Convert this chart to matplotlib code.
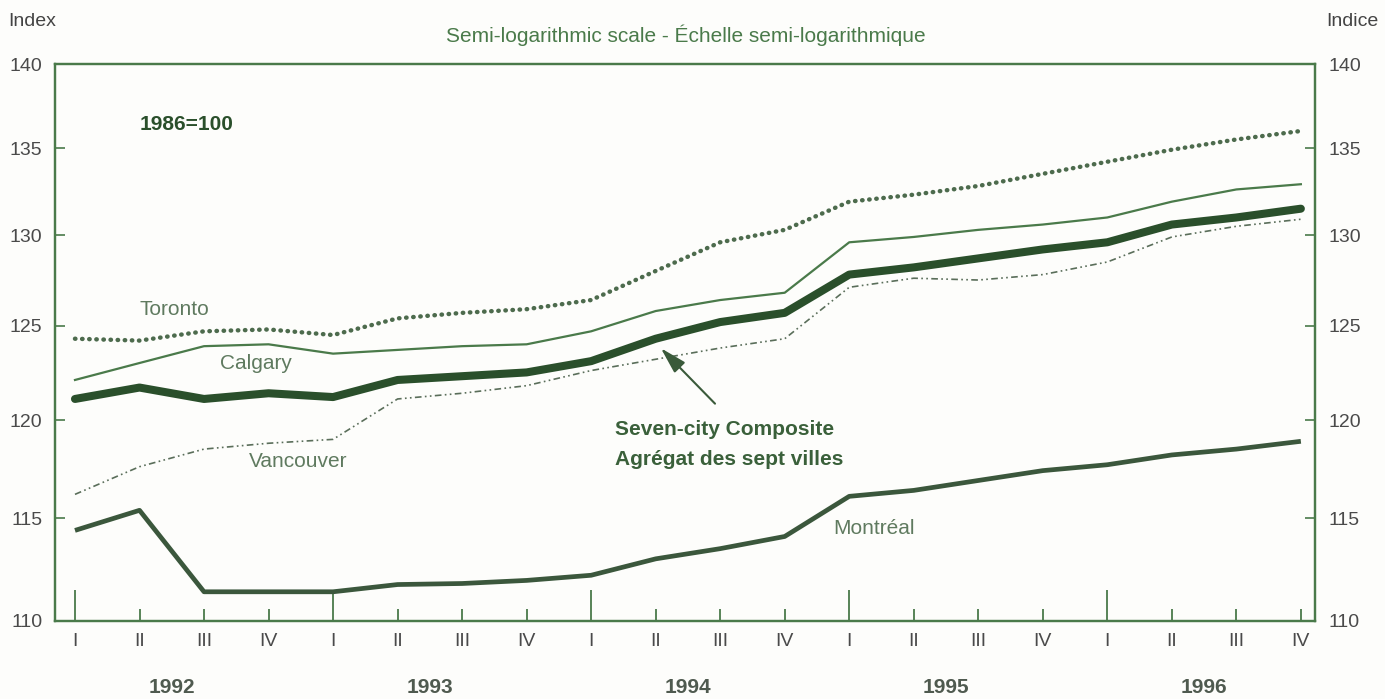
import matplotlib.pyplot as plt
from matplotlib.ticker import FixedLocator, FixedFormatter, NullLocator
from matplotlib.transforms import blended_transform_factory

# quarterly house price index, 1986=100
quarters = ['I', 'II', 'III', 'IV'] * 5
years = ['1992', '1993', '1994', '1995', '1996']

toronto = [124.3, 124.2, 124.7, 124.8, 124.5, 125.4, 125.7, 125.9, 126.4, 128.0,
           129.6, 130.3, 131.9, 132.3, 132.8, 133.5, 134.2, 134.9, 135.5, 136.0]
calgary = [122.1, 123.0, 123.9, 124.0, 123.5, 123.7, 123.9, 124.0, 124.7, 125.8,
           126.4, 126.8, 129.6, 129.9, 130.3, 130.6, 131.0, 131.9, 132.6, 132.9]
composite = [121.1, 121.7, 121.1, 121.4, 121.2, 122.1, 122.3, 122.5, 123.1, 124.3,
             125.2, 125.7, 127.8, 128.2, 128.7, 129.2, 129.6, 130.6, 131.0, 131.5]
vancouver = [116.2, 117.6, 118.5, 118.8, 119.0, 121.1, 121.4, 121.8, 122.6, 123.2,
             123.8, 124.3, 127.1, 127.6, 127.5, 127.8, 128.5, 129.9, 130.5, 130.9]
montreal = [114.4, 115.4, 111.4, 111.4, 111.4, 111.75, 111.8, 111.95, 112.2, 113.0,
            113.5, 114.1, 116.1, 116.4, 116.9, 117.4, 117.7, 118.2, 118.5, 118.9]

y_ticks = [110, 115, 120, 125, 130, 135, 140]

green = '#4a7a4a'
dark_green = '#2a4f2b'
grey_green = '#5f7a5f'
num_grey = '#4a4a4a'

plt.rcParams['font.family'] = ['Liberation Sans', 'DejaVu Sans']

fig = plt.figure(figsize=(13.85, 6.99), dpi=100, facecolor='#fdfdfb')
ax = fig.add_axes([0.0397, 0.1116, 0.9098, 0.7968])
ax.set_facecolor('#fdfdfb')
x = list(range(len(quarters)))

# series
ax.plot(x, toronto, color='#4d6b4d', lw=3.2, linestyle=(0, (0.1, 1.5)),
        dash_capstyle='round')
ax.plot(x, calgary, color=green, lw=1.6)
ax.plot(x, vancouver, color='#5a6e5a', lw=1.2,
        linestyle=(0, (4, 2, 1, 2, 1, 2)))
ax.plot(x, montreal, color='#3b573c', lw=3.4, solid_capstyle='butt')
ax.plot(x, composite, color=dark_green, lw=5.8, solid_capstyle='round')

# semi-log y axis
ax.set_yscale('log')
ax.set_ylim(110, 140)
ax.set_xlim(-0.31, 19.22)
ax.yaxis.set_major_locator(FixedLocator(y_ticks))
ax.yaxis.set_major_formatter(FixedFormatter([str(t) for t in y_ticks]))
ax.yaxis.set_minor_locator(NullLocator())
ax.tick_params(axis='y', direction='in', length=7, width=1.2, color=green,
               labelsize=14, labelcolor=num_grey, pad=9)

ax2 = ax.twinx()
ax2.set_yscale('log')
ax2.set_ylim(110, 140)
ax2.yaxis.set_major_locator(FixedLocator(y_ticks))
ax2.yaxis.set_major_formatter(FixedFormatter([str(t) for t in y_ticks]))
ax2.yaxis.set_minor_locator(NullLocator())
ax2.tick_params(axis='y', direction='in', length=7, width=1.2, color=green,
                labelsize=14, labelcolor=num_grey, pad=10)

for a in (ax, ax2):
    for s in a.spines.values():
        s.set_color(green)
        s.set_linewidth(1.6)

# quarter ticks: long ones at the start of each year
major_x = [i for i in x if i % 4 == 0]
minor_x = [i for i in x if i % 4 != 0]
ax.set_xticks(major_x, [quarters[i] for i in major_x])
ax.set_xticks(minor_x, [quarters[i] for i in minor_x], minor=True)
ax.tick_params(axis='x', which='major', direction='in', length=22, width=1.3,
               color=green, labelsize=14, labelcolor=num_grey, pad=9)
ax.tick_params(axis='x', which='minor', direction='in', length=9, width=1.3,
               color=green, labelsize=14, labelcolor=num_grey, pad=9)

trans = blended_transform_factory(ax.transData, ax.transAxes)
for k, yr in enumerate(years):
    ax.text(4 * k + 1.5, -0.119, yr, transform=trans, ha='center', va='center',
            fontsize=15, fontweight='bold', color='#4f5a4f')

# labels on the lines
ax.text(1.0, 136.4, '1986=100', fontsize=15, fontweight='bold', color=dark_green,
        va='center')
ax.text(1.0, 125.9, 'Toronto', fontsize=15, color=grey_green, va='center')
ax.text(2.25, 122.95, 'Calgary', fontsize=15, color=grey_green, va='center')
ax.text(2.7, 117.85, 'Vancouver', fontsize=15, color=grey_green, va='center')
ax.text(11.75, 114.5, 'Montréal', fontsize=15, color=grey_green, va='center')
ax.text(8.37, 119.5, 'Seven-city Composite', fontsize=15, fontweight='bold',
        color='#3a603a', va='center')
ax.text(8.37, 117.95, 'Agrégat des sept villes', fontsize=15, fontweight='bold',
        color='#3a603a', va='center')
ax.annotate('', xy=(9.05, 123.9), xytext=(9.95, 120.75),
            arrowprops=dict(arrowstyle='-|>,head_length=0.9,head_width=0.25',
                            color='#3a5a3a', lw=1.5, mutation_scale=18))

# headers
fig.text(0.006, 1 - 22 / 699, 'Index', fontsize=14, color='#444444', va='center')
fig.text(0.995, 1 - 22 / 699, 'Indice', fontsize=14, color='#444444', va='center',
         ha='right')
fig.text(0.495, 1 - 35 / 699, 'Semi-logarithmic scale - Échelle semi-logarithmique',
         fontsize=15, color=green, va='center', ha='center')

fig.savefig('out.png', dpi=100, facecolor=fig.get_facecolor())
